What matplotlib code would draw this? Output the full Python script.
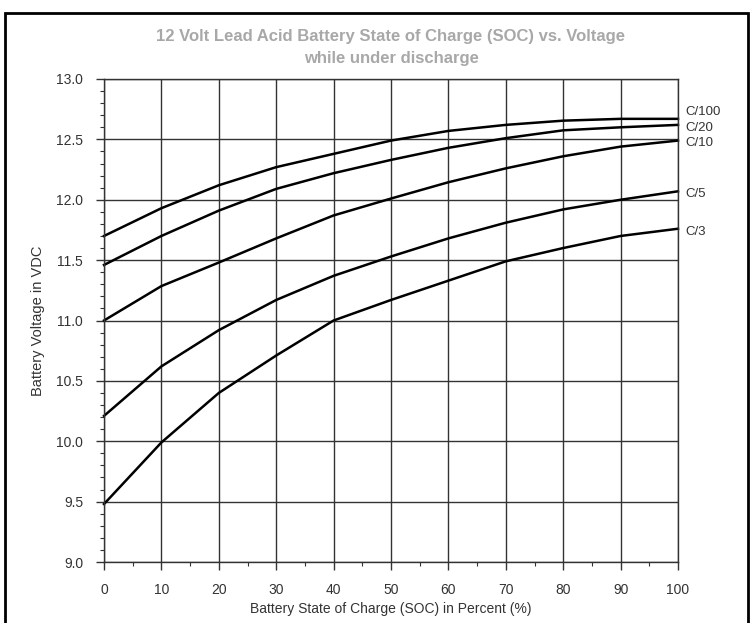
import matplotlib
matplotlib.use("Agg")
import matplotlib.pyplot as plt
from matplotlib.patches import Rectangle
from matplotlib.ticker import MultipleLocator

plt.rcParams['font.family'] = ['Liberation Sans', 'DejaVu Sans']

soc = [0, 10, 20, 30, 40, 50, 60, 70, 80, 90, 100]
c100 = [11.70, 11.93, 12.12, 12.27, 12.38, 12.49, 12.57, 12.62, 12.655, 12.67, 12.67]
c20 = [11.46, 11.70, 11.91, 12.09, 12.22, 12.33, 12.43, 12.51, 12.575, 12.60, 12.62]
c10 = [11.00, 11.285, 11.48, 11.68, 11.87, 12.01, 12.145, 12.26, 12.36, 12.44, 12.49]
c5 = [10.21, 10.62, 10.92, 11.17, 11.37, 11.53, 11.68, 11.81, 11.92, 12.00, 12.07]
c3 = [9.48, 9.99, 10.40, 10.71, 11.00, 11.17, 11.33, 11.49, 11.60, 11.70, 11.76]

series = [("C/100", c100, 5), ("C/20", c20, -2), ("C/10", c10, -2),
          ("C/5", c5, -2), ("C/3", c3, -2)]

fig = plt.figure(figsize=(7.54, 6.23), dpi=100)
fig.patches.append(Rectangle((5 / 754, -0.05), 743 / 754, 1 - 13 / 623 + 0.05,
                             transform=fig.transFigure, fill=False,
                             edgecolor='black', linewidth=2))

ax = fig.add_axes([104 / 754, 1 - 562 / 623, (678 - 104) / 754, (562 - 79) / 623])

ax.set_xlim(0, 100)
ax.set_ylim(9.0, 13.0)
ax.xaxis.set_major_locator(MultipleLocator(10))
ax.xaxis.set_minor_locator(MultipleLocator(5))
ax.yaxis.set_major_locator(MultipleLocator(0.5))
ax.yaxis.set_minor_locator(MultipleLocator(0.1))
ax.yaxis.set_major_formatter(matplotlib.ticker.FormatStrFormatter('%.1f'))

ax.grid(True, which='major', color='#333333', linewidth=1.0)
for s in ax.spines.values():
    s.set_color('#333333')
    s.set_linewidth(1.0)

ax.tick_params(axis='both', which='major', direction='out', length=6, width=1,
               color='#333333', labelsize=10, labelcolor='#333333')
ax.tick_params(axis='y', which='major', pad=9)
ax.tick_params(axis='x', which='major', pad=9)
ax.tick_params(axis='both', which='minor', direction='out', length=3, width=0.8,
               color='#333333')

for name, vals, off in series:
    ax.plot(soc, vals, color='black', linewidth=1.8, clip_on=False)
    ax.annotate(name, xy=(soc[-1], vals[-1]), xytext=(5, off),
                textcoords='offset points', ha='left', va='center',
                fontsize=9.5, color='#333333', annotation_clip=False)

ax.set_xlabel("Battery State of Charge (SOC) in Percent (%)", fontsize=10,
              color='#333333', labelpad=4)
ax.set_ylabel("Battery Voltage in VDC", fontsize=10.5, color='#333333', labelpad=8)

fig.text(391 / 754, 1 - 36 / 623,
         "12 Volt Lead Acid Battery State of Charge (SOC) vs. Voltage",
         ha='center', va='center', fontsize=12, fontweight='bold', color='#a8a8a8')
fig.text(391 / 754, 1 - 59 / 623, "while under discharge",
         ha='center', va='center', fontsize=12, fontweight='bold', color='#a8a8a8')

fig.savefig("out.png", dpi=100)
